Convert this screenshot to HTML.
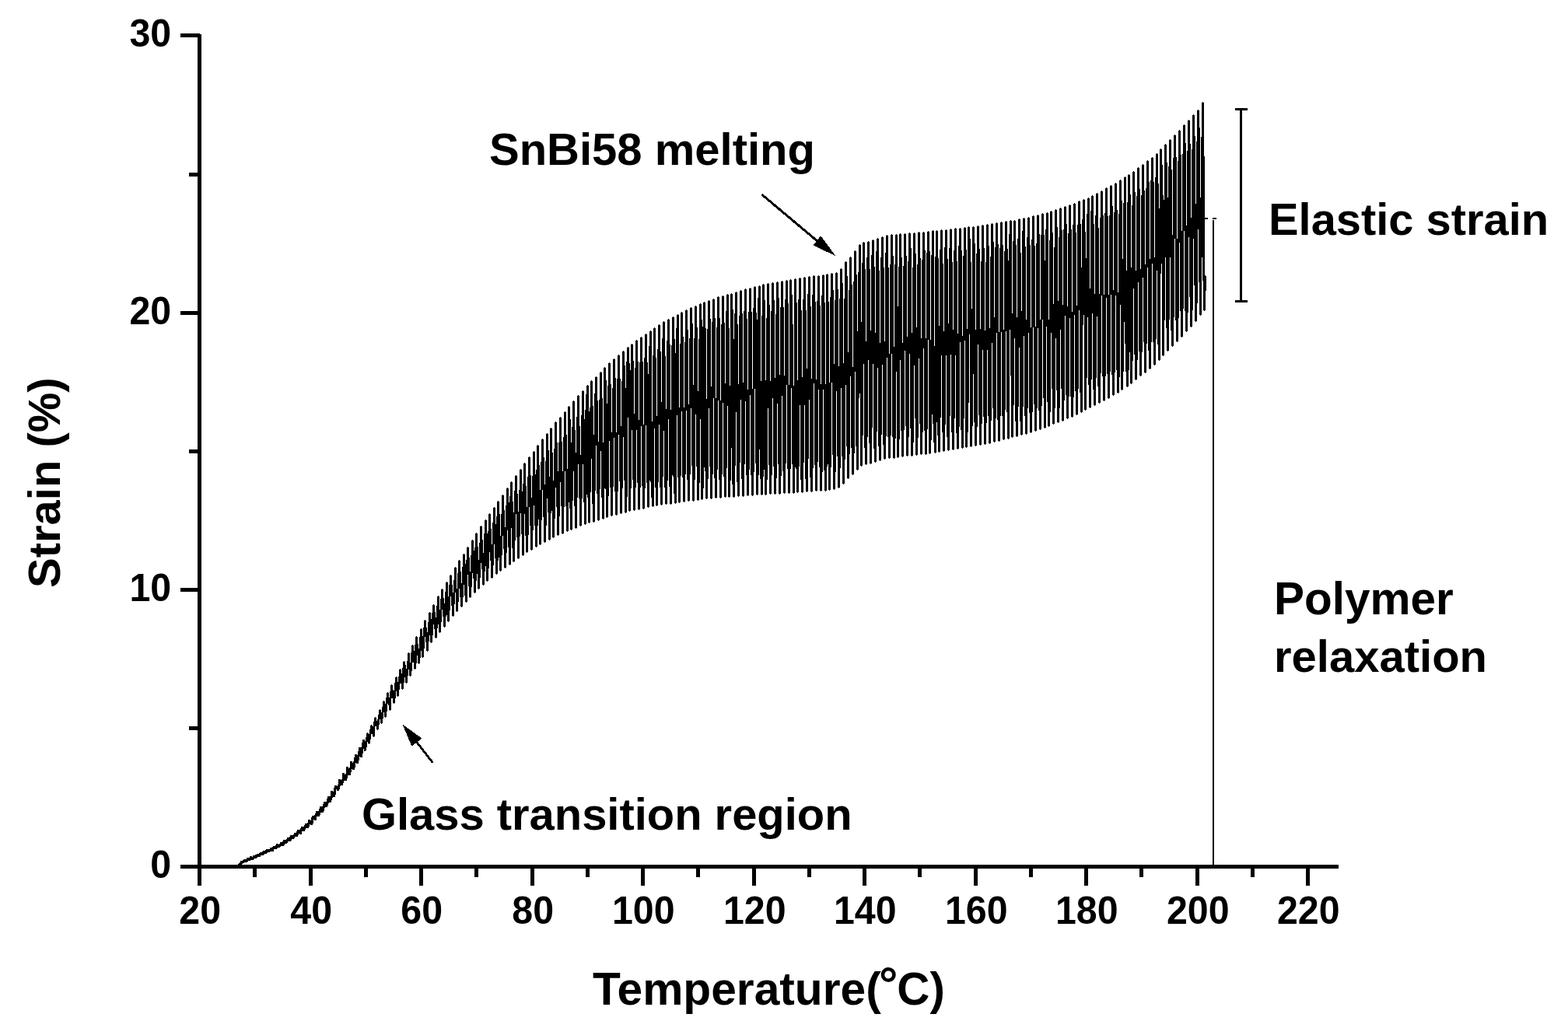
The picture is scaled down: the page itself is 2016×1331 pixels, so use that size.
<!DOCTYPE html>
<html lang="en"><head><meta charset="utf-8">
<title>Strain vs Temperature</title>
<style>
html,body{margin:0;padding:0;background:#fff;overflow:hidden;}
body{width:2016px;height:1331px;overflow:hidden;}
svg{display:block;}
text{font-family:"Liberation Sans",Arial,Helvetica,sans-serif;font-weight:bold;fill:#000;}
.ann{font-size:58px;}
.tick{font-size:48.3px;}
.ax{stroke:#000;stroke-width:5;fill:none;stroke-linecap:butt;}
</style></head><body>
<svg width="2016" height="1331" viewBox="0 0 2016 1331">
<rect width="2016" height="1331" fill="#fff"/>
<g shape-rendering="crispEdges">
<path d="M305.5 1112V1115M306.5 1111V1115M307.5 1110V1115M308.5 1109V1114M309.5 1107V1113M310.5 1107V1113M311.5 1107V1111M312.5 1106V1110M313.5 1105V1110M314.5 1105V1109M315.5 1105V1109M316.5 1105V1109M317.5 1103V1109M318.5 1103V1108M319.5 1103V1107M320.5 1103V1107M321.5 1101V1107M322.5 1101V1106M323.5 1101V1106M324.5 1102V1106M325.5 1100V1106M326.5 1100V1105M327.5 1100V1104M328.5 1099V1104M329.5 1099V1104M330.5 1098V1103M331.5 1098V1102M332.5 1098V1102M333.5 1097V1102M334.5 1096V1102M335.5 1096V1100M336.5 1096V1100M337.5 1095V1100M338.5 1094V1100M339.5 1094V1099M340.5 1094V1098M341.5 1093V1098M342.5 1092V1098M343.5 1092V1097M344.5 1092V1096M345.5 1092V1096M346.5 1092V1096M347.5 1090V1095M348.5 1090V1095M349.5 1090V1095M350.5 1089V1095M351.5 1088V1095M352.5 1088V1092M353.5 1088V1092M354.5 1087V1092M355.5 1085V1092M356.5 1085V1091M357.5 1085V1090M358.5 1086V1090M359.5 1085V1090M360.5 1083V1089M361.5 1083V1088M362.5 1083V1088M363.5 1082V1088M364.5 1080V1088M365.5 1080V1087M366.5 1080V1085M367.5 1080V1085M368.5 1079V1085M369.5 1077V1084M370.5 1077V1082M371.5 1077V1082M372.5 1076V1082M373.5 1074V1082M374.5 1074V1081M375.5 1074V1079M376.5 1074V1079M377.5 1073V1079M378.5 1071V1078M379.5 1071V1076M380.5 1071V1076M381.5 1069V1076M382.5 1067V1076M383.5 1067V1074M384.5 1067V1072M385.5 1067V1073M386.5 1065V1073M387.5 1063V1073M388.5 1063V1069M389.5 1063V1069M390.5 1063V1069M391.5 1061V1069M392.5 1059V1067M393.5 1059V1065M394.5 1059V1065M395.5 1058V1065M396.5 1054V1065M397.5 1054V1063M398.5 1054V1060M399.5 1055V1061M400.5 1051V1061M401.5 1049V1061M402.5 1049V1059M403.5 1049V1054M404.5 1048V1055M405.5 1046V1055M406.5 1043V1055M407.5 1043V1050M408.5 1043V1050M409.5 1043V1050M410.5 1040V1050M411.5 1037V1048M412.5 1037V1045M413.5 1037V1045M414.5 1037V1045M415.5 1034V1045M416.5 1031V1043M417.5 1031V1039M418.5 1031V1038M419.5 1031V1038M420.5 1027V1038M421.5 1024V1036M422.5 1024V1033M423.5 1024V1032M424.5 1024V1032M425.5 1017V1032M426.5 1017V1029M427.5 1017V1026M428.5 1018V1025M429.5 1013V1025M430.5 1010V1025M431.5 1010V1022M432.5 1010V1015M433.5 1011V1017M434.5 1009V1017M435.5 1002V1017M436.5 1002V1015M437.5 1002V1011M438.5 1003V1010M439.5 1002V1010M440.5 994V1010M441.5 994V1007M442.5 994V1004M443.5 996V1004M444.5 995V1004M445.5 986V1004M446.5 986V1001M447.5 986V997M448.5 988V997M449.5 987V997M450.5 979V997M451.5 979V993M452.5 979V989M453.5 981V990M454.5 979V990M455.5 974V990M456.5 970V987M457.5 970V981M458.5 970V982M459.5 971V982M460.5 966V982M461.5 961V978M462.5 961V973M463.5 961V974M464.5 961V974M465.5 955V974M466.5 951V969M467.5 951V963M468.5 951V966M469.5 953V966M470.5 948V965M471.5 943V961M472.5 942V954M473.5 943V956M474.5 944V957M475.5 938V956M476.5 933V951M477.5 932V944M478.5 933V944M479.5 934V947M480.5 928V948M481.5 923V947M482.5 922V934M483.5 923V934M484.5 927V938M485.5 925V939M486.5 919V938M487.5 913V932M488.5 912V925M489.5 913V930M490.5 916V931M491.5 909V930M492.5 902V924M493.5 901V916M494.5 902V922M495.5 905V923M496.5 897V922M497.5 891V915M498.5 890V905M499.5 891V907M500.5 897V913M501.5 889V914M502.5 881V913M503.5 880V898M504.5 881V898M505.5 887V904M506.5 888V905M507.5 878V904M508.5 871V898M509.5 870V889M510.5 871V895M511.5 877V896M512.5 870V895M513.5 861V887M514.5 860V879M515.5 861V879M516.5 866V886M517.5 859V887M518.5 851V886M519.5 850V878M520.5 851V871M521.5 855V878M522.5 860V879M523.5 850V878M524.5 840V869M525.5 839V861M526.5 840V869M527.5 852V870M528.5 839V869M529.5 830V863M530.5 829V852M531.5 830V852M532.5 837V860M533.5 829V861M534.5 819V860M535.5 818V853M536.5 819V843M537.5 828V853M538.5 834V854M539.5 819V853M540.5 809V846M541.5 808V837M542.5 809V845M543.5 818V846M544.5 807V845M545.5 798V834M546.5 797V819M547.5 798V826M548.5 807V837M549.5 813V838M550.5 800V837M551.5 788V825M552.5 787V817M553.5 788V826M554.5 796V827M555.5 788V826M556.5 778V817M557.5 777V803M558.5 778V809M559.5 787V820M560.5 794V821M561.5 779V820M562.5 767V808M563.5 766V803M564.5 767V813M565.5 784V814M566.5 770V813M567.5 758V800M568.5 757V784M569.5 758V793M570.5 769V806M571.5 776V807M572.5 761V806M573.5 749V793M574.5 748V791M575.5 749V799M576.5 767V800M577.5 752V799M578.5 740V785M579.5 739V767M580.5 740V779M581.5 752V792M582.5 762V793M583.5 746V792M584.5 730V777M585.5 729V762M586.5 730V786M587.5 757V787M588.5 737V786M589.5 721V774M590.5 720V757M591.5 721V768M592.5 735V780M593.5 750V781M594.5 729V780M595.5 713V768M596.5 712V752M597.5 713V766M598.5 725V774M599.5 720V775M600.5 704V774M601.5 703V739M602.5 704V754M603.5 717V768M604.5 735V769M605.5 714V768M606.5 695V755M607.5 694V737M608.5 695V744M609.5 708V762M610.5 704V763M611.5 686V762M612.5 685V747M613.5 686V738M614.5 703V757M615.5 720V758M616.5 698V757M617.5 677V743M618.5 676V724M619.5 677V732M620.5 694V752M621.5 711V753M622.5 686V752M623.5 669V735M624.5 668V728M625.5 669V747M626.5 686V748M627.5 683V747M628.5 661V731M629.5 660V710M630.5 661V721M631.5 680V743M632.5 700V744M633.5 672V743M634.5 653V727M635.5 652V700M636.5 653V718M637.5 674V738M638.5 664V739M639.5 645V738M640.5 644V721M641.5 645V717M642.5 661V734M643.5 689V735M644.5 661V734M645.5 637V714M646.5 636V689M647.5 637V706M648.5 656V730M649.5 678V731M650.5 650V730M651.5 628V711M652.5 627V682M653.5 628V704M654.5 646V726M655.5 638V727M656.5 620V726M657.5 619V679M658.5 620V705M659.5 645V722M660.5 659V723M661.5 631V722M662.5 612V695M663.5 611V661M664.5 612V691M665.5 635V718M666.5 658V719M667.5 630V718M668.5 604V690M669.5 603V660M670.5 604V687M671.5 632V714M672.5 622V715M673.5 596V714M674.5 595V661M675.5 596V689M676.5 625V710M677.5 652V711M678.5 613V710M679.5 588V688M680.5 587V652M681.5 588V676M682.5 611V707M683.5 640V708M684.5 612V707M685.5 581V682M686.5 580V650M687.5 581V676M688.5 610V703M689.5 604V704M690.5 573V703M691.5 572V676M692.5 573V668M693.5 598V700M694.5 630V701M695.5 594V700M696.5 565V669M697.5 564V630M698.5 565V665M699.5 588V697M700.5 623V698M701.5 593V697M702.5 558V676M703.5 557V641M704.5 558V659M705.5 579V694M706.5 613V695M707.5 551V694M708.5 550V660M709.5 551V657M710.5 582V691M711.5 618V692M712.5 577V691M713.5 543V667M714.5 542V627M715.5 543V652M716.5 569V688M717.5 606V689M718.5 569V688M719.5 537V664M720.5 536V620M721.5 537V651M722.5 568V686M723.5 606V687M724.5 562V686M725.5 530V652M726.5 529V606M727.5 530V651M728.5 559V683M729.5 603V684M730.5 523V683M731.5 522V646M732.5 523V654M733.5 539V681M734.5 569V682M735.5 549V681M736.5 516V644M737.5 515V606M738.5 516V651M739.5 553V679M740.5 582V680M741.5 536V679M742.5 509V640M743.5 508V597M744.5 509V641M745.5 548V676M746.5 585V677M747.5 534V676M748.5 503V641M749.5 502V597M750.5 503V646M751.5 539V674M752.5 527V675M753.5 507V674M754.5 496V636M755.5 495V640M756.5 496V672M757.5 529V673M758.5 524V672M759.5 490V633M760.5 489V590M761.5 490V648M762.5 522V671M763.5 559V672M764.5 506V671M765.5 485V631M766.5 484V573M767.5 485V635M768.5 515V669M769.5 568V670M770.5 514V669M771.5 479V629M772.5 478V580M773.5 479V640M774.5 512V667M775.5 569V668M776.5 473V667M777.5 472V628M778.5 473V629M779.5 489V665M780.5 519V666M781.5 496V665M782.5 467V638M783.5 466V567M784.5 467V627M785.5 494V663M786.5 556V664M787.5 499V663M788.5 462V626M789.5 461V563M790.5 462V632M791.5 486V662M792.5 556V663M793.5 487V662M794.5 457V632M795.5 456V559M796.5 457V619M797.5 487V660M798.5 548V661M799.5 490V660M800.5 452V628M801.5 451V562M802.5 452V618M803.5 470V659M804.5 499V660M805.5 465V659M806.5 447V639M807.5 446V537M808.5 447V657M809.5 467V658M810.5 476V657M811.5 443V628M812.5 442V553M813.5 443V617M814.5 464V656M815.5 532V657M816.5 473V656M817.5 438V627M818.5 437V553M819.5 438V621M820.5 465V655M821.5 540V656M822.5 466V655M823.5 434V627M824.5 433V548M825.5 434V625M826.5 465V654M827.5 546V655M828.5 460V654M829.5 430V628M830.5 429V547M831.5 430V621M832.5 466V652M833.5 481V653M834.5 445V652M835.5 426V618M836.5 425V620M837.5 426V640M838.5 542V651M839.5 457V652M840.5 422V651M841.5 421V551M842.5 422V627M843.5 460V650M844.5 535V651M845.5 449V650M846.5 418V620M847.5 417V546M848.5 418V627M849.5 452V649M850.5 517V650M851.5 435V649M852.5 414V613M853.5 413V554M854.5 414V627M855.5 458V648M856.5 526V649M857.5 438V648M858.5 411V618M859.5 410V539M860.5 411V626M861.5 443V648M862.5 527V649M863.5 444V648M864.5 408V611M865.5 407V613M866.5 408V635M867.5 436V647M868.5 454V648M869.5 422V647M870.5 405V534M871.5 404V614M872.5 405V646M873.5 524V647M874.5 442V646M875.5 402V612M876.5 401V529M877.5 402V614M878.5 433V645M879.5 524V646M880.5 440V645M881.5 399V610M882.5 398V528M883.5 399V617M884.5 424V644M885.5 520V645M886.5 435V644M887.5 396V610M888.5 395V525M889.5 396V599M890.5 416V644M891.5 495V645M892.5 435V644M893.5 394V617M894.5 393V533M895.5 394V600M896.5 421V643M897.5 503V644M898.5 436V643M899.5 391V621M900.5 390V539M901.5 391V642M902.5 411V643M903.5 420V642M904.5 389V628M905.5 388V601M906.5 389V606M907.5 422V641M908.5 513V642M909.5 423V641M910.5 387V616M911.5 386V525M912.5 387V600M913.5 410V641M914.5 497V642M915.5 414V641M916.5 385V610M917.5 384V512M918.5 385V615M919.5 409V640M920.5 512V641M921.5 421V640M922.5 382V604M923.5 381V515M924.5 382V617M925.5 409V640M926.5 515V641M927.5 417V640M928.5 381V610M929.5 380V518M930.5 381V613M931.5 415V639M932.5 493V640M933.5 400V639M934.5 379V602M935.5 378V522M936.5 379V639M937.5 422V640M938.5 496V639M939.5 378V618M940.5 377V576M941.5 378V623M942.5 398V639M943.5 436V640M944.5 403V639M945.5 376V599M946.5 375V530M947.5 376V620M948.5 417V638M949.5 494V639M950.5 406V638M951.5 374V595M952.5 373V514M953.5 374V616M954.5 403V638M955.5 492V639M956.5 400V638M957.5 372V597M958.5 371V516M959.5 372V611M960.5 410V637M961.5 501V638M962.5 401V637M963.5 371V604M964.5 370V508M965.5 371V611M966.5 401V637M967.5 500V638M968.5 396V637M969.5 369V607M970.5 368V500M971.5 369V596M972.5 402V636M973.5 411V637M974.5 383V636M975.5 368V611M976.5 367V578M977.5 368V616M978.5 490V636M979.5 406V637M980.5 366V636M981.5 365V613M982.5 366V604M983.5 386V636M984.5 489V637M985.5 409V636M986.5 365V617M987.5 364V525M988.5 365V598M989.5 392V635M990.5 490V636M991.5 400V635M992.5 364V611M993.5 363V512M994.5 364V600M995.5 386V635M996.5 486V636M997.5 404V635M998.5 363V615M999.5 362V519M1000.5 363V597M1001.5 383V635M1002.5 482V636M1003.5 395V635M1004.5 362V612M1005.5 361V509M1006.5 362V606M1007.5 395V634M1008.5 483V635M1009.5 385V634M1010.5 361V596M1011.5 360V495M1012.5 361V603M1013.5 390V634M1014.5 495V635M1015.5 360V634M1016.5 359V603M1017.5 360V499M1018.5 379V597M1019.5 417V634M1020.5 496V635M1021.5 359V634M1022.5 358V601M1023.5 359V603M1024.5 389V633M1025.5 489V634M1026.5 385V633M1027.5 358V600M1028.5 357V521M1029.5 358V617M1030.5 399V633M1031.5 485V634M1032.5 385V633M1033.5 357V595M1034.5 356V521M1035.5 357V616M1036.5 399V632M1037.5 474V633M1038.5 378V632M1039.5 356V590M1040.5 355V514M1041.5 356V614M1042.5 394V632M1043.5 487V633M1044.5 379V632M1045.5 355V602M1046.5 354V493M1047.5 355V598M1048.5 388V631M1049.5 488V632M1050.5 387V631M1051.5 355V594M1052.5 354V501M1053.5 355V601M1054.5 393V631M1055.5 494V632M1056.5 380V631M1057.5 354V607M1058.5 353V501M1059.5 354V605M1060.5 389V631M1061.5 494V632M1062.5 353V631M1063.5 352V600M1064.5 353V597M1065.5 388V630M1066.5 492V631M1067.5 382V630M1068.5 352V601M1069.5 351V492M1070.5 352V585M1071.5 373V629M1072.5 468V630M1073.5 386V629M1074.5 351V607M1075.5 350V503M1076.5 351V587M1077.5 372V627M1078.5 471V628M1079.5 384V627M1080.5 346V602M1081.5 345V499M1082.5 346V587M1083.5 364V622M1084.5 467V623M1085.5 384V622M1086.5 337V591M1087.5 336V495M1088.5 337V574M1089.5 355V615M1090.5 453V616M1091.5 373V615M1092.5 331V584M1093.5 330V484M1094.5 331V576M1095.5 366V610M1096.5 472V611M1097.5 362V610M1098.5 323V583M1099.5 322V478M1100.5 323V574M1101.5 353V604M1102.5 426V605M1103.5 350V604M1104.5 315V512M1105.5 314V506M1106.5 315V599M1107.5 414V600M1108.5 338V599M1109.5 312V560M1110.5 311V468M1111.5 312V576M1112.5 346V597M1113.5 439V598M1114.5 331V597M1115.5 311V562M1116.5 310V463M1117.5 311V570M1118.5 346V596M1119.5 425V597M1120.5 328V596M1121.5 309V550M1122.5 308V468M1123.5 309V577M1124.5 343V594M1125.5 428V595M1126.5 323V594M1127.5 307V555M1128.5 306V473M1129.5 307V574M1130.5 348V592M1131.5 441V593M1132.5 331V592M1133.5 305V559M1134.5 304V469M1135.5 305V572M1136.5 344V590M1137.5 439V591M1138.5 325V590M1139.5 303V561M1140.5 302V460M1141.5 303V562M1142.5 344V589M1143.5 455V590M1144.5 340V589M1145.5 302V560M1146.5 301V455M1147.5 302V562M1148.5 329V589M1149.5 446V590M1150.5 340V589M1151.5 302V564M1152.5 301V478M1153.5 302V588M1154.5 394V589M1155.5 343V588M1156.5 301V565M1157.5 300V463M1158.5 301V554M1159.5 331V587M1160.5 441V588M1161.5 342V587M1162.5 301V553M1163.5 300V451M1164.5 301V548M1165.5 329V586M1166.5 433V587M1167.5 336V586M1168.5 300V562M1169.5 299V455M1170.5 300V551M1171.5 319V586M1172.5 428V587M1173.5 344V586M1174.5 300V569M1175.5 299V470M1176.5 300V538M1177.5 326V585M1178.5 421V586M1179.5 340V585M1180.5 299V563M1181.5 298V461M1182.5 299V545M1183.5 332V584M1184.5 435V585M1185.5 334V584M1186.5 299V556M1187.5 298V448M1188.5 299V554M1189.5 322V584M1190.5 435V585M1191.5 325V584M1192.5 298V552M1193.5 297V437M1194.5 298V583M1195.5 323V584M1196.5 437V583M1197.5 328V566M1198.5 297V533M1199.5 296V545M1200.5 297V569M1201.5 445V582M1202.5 330V583M1203.5 297V582M1204.5 296V543M1205.5 297V560M1206.5 332V581M1207.5 419V582M1208.5 321V581M1209.5 296V537M1210.5 295V457M1211.5 296V556M1212.5 339V580M1213.5 426V581M1214.5 318V580M1215.5 296V546M1216.5 295V457M1217.5 296V562M1218.5 333V579M1219.5 416V580M1220.5 319V579M1221.5 295V535M1222.5 294V456M1223.5 295V556M1224.5 337V578M1225.5 424V579M1226.5 322V578M1227.5 294V538M1228.5 293V457M1229.5 294V557M1230.5 336V577M1231.5 429V578M1232.5 316V577M1233.5 294V549M1234.5 293V440M1235.5 294V553M1236.5 322V576M1237.5 432V577M1238.5 329V576M1239.5 293V538M1240.5 292V438M1241.5 293V575M1242.5 321V576M1243.5 423V575M1244.5 292V556M1245.5 291V518M1246.5 292V430M1247.5 307V574M1248.5 337V575M1249.5 397V574M1250.5 292V548M1251.5 291V481M1252.5 292V543M1253.5 313V573M1254.5 424V574M1255.5 326V573M1256.5 291V549M1257.5 290V443M1258.5 291V534M1259.5 320V572M1260.5 423V573M1261.5 336V572M1262.5 290V545M1263.5 289V450M1264.5 290V536M1265.5 319V571M1266.5 425V572M1267.5 337V571M1268.5 289V544M1269.5 288V450M1270.5 289V535M1271.5 316V570M1272.5 422V571M1273.5 330V570M1274.5 288V541M1275.5 287V441M1276.5 288V525M1277.5 311V568M1278.5 408V569M1279.5 318V568M1280.5 287V538M1281.5 286V428M1282.5 287V540M1283.5 314V567M1284.5 427V568M1285.5 319V567M1286.5 286V535M1287.5 285V427M1288.5 286V535M1289.5 315V565M1290.5 424V566M1291.5 323V565M1292.5 285V527M1293.5 284V426M1294.5 285V530M1295.5 320V564M1296.5 335V565M1297.5 301V564M1298.5 284V424M1299.5 283V483M1300.5 284V562M1301.5 403V563M1302.5 310V562M1303.5 284V521M1304.5 283V435M1305.5 284V542M1306.5 315V561M1307.5 408V562M1308.5 307V561M1309.5 282V523M1310.5 281V447M1311.5 282V542M1312.5 325V559M1313.5 400V560M1314.5 297V559M1315.5 281V523M1316.5 280V432M1317.5 281V535M1318.5 317V558M1319.5 411V559M1320.5 305V558M1321.5 280V525M1322.5 279V428M1323.5 280V531M1324.5 315V556M1325.5 421V557M1326.5 308V556M1327.5 278V530M1328.5 277V421M1329.5 278V520M1330.5 316V554M1331.5 420V555M1332.5 313V554M1333.5 277V525M1334.5 276V422M1335.5 277V528M1336.5 301V552M1337.5 411V553M1338.5 302V552M1339.5 275V522M1340.5 274V411M1341.5 275V512M1342.5 302V550M1343.5 335V551M1344.5 295V550M1345.5 274V420M1346.5 273V517M1347.5 274V548M1348.5 411V549M1349.5 309V548M1350.5 272V530M1351.5 271V428M1352.5 272V500M1353.5 299V545M1354.5 391V546M1355.5 318V545M1356.5 270V525M1357.5 269V435M1358.5 270V502M1359.5 292V543M1360.5 387V544M1361.5 305V543M1362.5 268V525M1363.5 267V424M1364.5 268V500M1365.5 296V541M1366.5 392V542M1367.5 295V541M1368.5 266V515M1369.5 265V406M1370.5 266V508M1371.5 288V538M1372.5 394V539M1373.5 300V538M1374.5 264V510M1375.5 263V409M1376.5 264V510M1377.5 295V536M1378.5 401V537M1379.5 289V536M1380.5 262V511M1381.5 261V405M1382.5 262V503M1383.5 299V533M1384.5 393V534M1385.5 289V533M1386.5 259V500M1387.5 258V399M1388.5 259V505M1389.5 288V530M1390.5 344V531M1391.5 282V530M1392.5 257V418M1393.5 256V405M1394.5 257V527M1395.5 298V528M1396.5 332V527M1397.5 275V486M1398.5 255V408M1399.5 254V495M1400.5 255V524M1401.5 371V525M1402.5 271V524M1403.5 252V488M1404.5 251V403M1405.5 252V501M1406.5 288V521M1407.5 378V522M1408.5 277V521M1409.5 249V486M1410.5 248V407M1411.5 249V497M1412.5 293V518M1413.5 378V519M1414.5 280V518M1415.5 246V480M1416.5 245V380M1417.5 246V484M1418.5 277V515M1419.5 379V516M1420.5 274V515M1421.5 242V484M1422.5 241V383M1423.5 242V481M1424.5 278V512M1425.5 379V513M1426.5 277V512M1427.5 239V478M1428.5 238V379M1429.5 239V482M1430.5 265V508M1431.5 373V509M1432.5 273V508M1433.5 236V479M1434.5 235V380M1435.5 236V476M1436.5 270V505M1437.5 376V506M1438.5 275V505M1439.5 232V485M1440.5 231V392M1441.5 232V501M1442.5 258V502M1443.5 333V501M1444.5 261V478M1445.5 228V414M1446.5 227V442M1447.5 228V478M1448.5 348V497M1449.5 260V498M1450.5 225V497M1451.5 224V476M1452.5 225V453M1453.5 250V493M1454.5 344V494M1455.5 264V493M1456.5 221V464M1457.5 220V371M1458.5 221V456M1459.5 247V488M1460.5 348V489M1461.5 252V488M1462.5 216V463M1463.5 215V363M1464.5 216V452M1465.5 243V483M1466.5 346V484M1467.5 251V483M1468.5 212V453M1469.5 211V357M1470.5 212V440M1471.5 245V479M1472.5 340V480M1473.5 242V479M1474.5 207V442M1475.5 206V344M1476.5 207V451M1477.5 234V474M1478.5 333V475M1479.5 232V474M1480.5 203V440M1481.5 202V339M1482.5 203V440M1483.5 234V469M1484.5 331V470M1485.5 228V469M1486.5 198V436M1487.5 197V348M1488.5 198V443M1489.5 236V463M1490.5 268V464M1491.5 192V463M1492.5 191V352M1493.5 192V339M1494.5 212V457M1495.5 251V458M1496.5 257V457M1497.5 186V412M1498.5 185V331M1499.5 186V422M1500.5 209V451M1501.5 254V452M1502.5 214V451M1503.5 180V411M1504.5 179V331M1505.5 180V425M1506.5 218V445M1507.5 302V446M1508.5 203V445M1509.5 174V408M1510.5 173V307M1511.5 174V412M1512.5 202V439M1513.5 307V440M1514.5 207V439M1515.5 168V409M1516.5 167V312M1517.5 168V400M1518.5 199V433M1519.5 297V434M1520.5 198V433M1521.5 161V397M1522.5 160V297M1523.5 161V400M1524.5 184V426M1525.5 290V427M1526.5 194V426M1527.5 155V402M1528.5 154V305M1529.5 155V382M1530.5 185V420M1531.5 280V421M1532.5 192V420M1533.5 148V399M1534.5 147V307M1535.5 148V367M1536.5 175V413M1537.5 262V414M1538.5 182V413M1539.5 142V390M1540.5 141V295M1541.5 142V363M1542.5 164V405M1543.5 254V406M1544.5 176V405M1545.5 132V331M1546.5 131V361M1547.5 132V399M1548.5 201V400M1549.5 354V399M1550.5 355V374" fill="none" stroke="#000" stroke-width="1"/>
</g>
<g shape-rendering="crispEdges" class="ax">
<path d="M232 1114.5H1720.5"/>
<path d="M256.5 44V1139"/>
<path d="M232 758.5H257"/>
<path d="M232 402.5H257"/>
<path d="M232 45.5H257"/>
<path d="M243 936.5H257"/>
<path d="M243 580.5H257"/>
<path d="M243 224.5H257"/>
<path d="M399.5 1114V1139"/>
<path d="M541.5 1114V1139"/>
<path d="M684.5 1114V1139"/>
<path d="M826.5 1114V1139"/>
<path d="M969.5 1114V1139"/>
<path d="M1111.5 1114V1139"/>
<path d="M1254.5 1114V1139"/>
<path d="M1396.5 1114V1139"/>
<path d="M1539.5 1114V1139"/>
<path d="M1681.5 1114V1139"/>
<path d="M327.5 1114V1128"/>
<path d="M470.5 1114V1128"/>
<path d="M612.5 1114V1128"/>
<path d="M755.5 1114V1128"/>
<path d="M897.5 1114V1128"/>
<path d="M1040.5 1114V1128"/>
<path d="M1182.5 1114V1128"/>
<path d="M1325.5 1114V1128"/>
<path d="M1467.5 1114V1128"/>
<path d="M1610.5 1114V1128"/>
</g>
<g class="tick" text-anchor="middle">
<text transform="translate(257.2 1187.6) scale(1 1.018)">20</text>
<text transform="translate(400.2 1187.6) scale(1 1.018)">40</text>
<text transform="translate(542.2 1187.6) scale(1 1.018)">60</text>
<text transform="translate(685.2 1187.6) scale(1 1.018)">80</text>
<text transform="translate(827.2 1187.6) scale(1 1.018)">100</text>
<text transform="translate(970.2 1187.6) scale(1 1.018)">120</text>
<text transform="translate(1112.2 1187.6) scale(1 1.018)">140</text>
<text transform="translate(1255.2 1187.6) scale(1 1.018)">160</text>
<text transform="translate(1397.2 1187.6) scale(1 1.018)">180</text>
<text transform="translate(1540.2 1187.6) scale(1 1.018)">200</text>
<text transform="translate(1682.2 1187.6) scale(1 1.018)">220</text>
</g>
<g class="tick" text-anchor="end">
<text transform="translate(220.2 1128.7) scale(1 1.018)">0</text>
<text transform="translate(220.2 772.7) scale(1 1.018)">10</text>
<text transform="translate(220.2 416.7) scale(1 1.018)">20</text>
<text transform="translate(220.2 59.7) scale(1 1.018)">30</text>
</g>
<text class="ann" x="762" y="1292" style="font-size:58.7px">Temperature(<tspan x="1129.9" y="1287.2" style="font-size:61px">°</tspan><tspan x="1153.3" y="1292" style="font-size:58.3px">C)</tspan></text>
<text class="ann" transform="translate(77 756) rotate(-90)">Strain (%)</text>
<text class="ann" x="465" y="1067" style="font-size:57.9px">Glass transition region</text>
<text class="ann" x="629" y="212">SnBi58 melting</text>
<text class="ann" x="1631" y="302" style="font-size:57.85px">Elastic strain</text>
<text class="ann" x="1638" y="790" style="font-size:58.5px">Polymer</text>
<text class="ann" x="1638" y="864">relaxation</text>
<g shape-rendering="crispEdges" stroke="#000" fill="#000">
<path d="M979.6 250.2L1052 311" stroke-width="3" fill="none"/>
<path d="M1074.6 329.3L1055.2 303.4L1045.4 315.4Z" stroke="none"/>
<path d="M556.4 980.8L534 952" stroke-width="2.8" fill="none"/>
<path d="M517.6 931.5L542.6 949.7L529.2 959.5Z" stroke="none"/>
<rect x="1594" y="139" width="3" height="250" stroke="none"/>
<rect x="1588" y="139" width="16" height="3" stroke="none"/>
<rect x="1588" y="386" width="16" height="3" stroke="none"/>
<rect x="1559" y="283" width="2" height="830" stroke="none"/>
<rect x="1548" y="280" width="5" height="2" stroke="none"/>
<rect x="1559" y="280" width="5" height="2" stroke="none"/>
</g>
</svg>
</body></html>
